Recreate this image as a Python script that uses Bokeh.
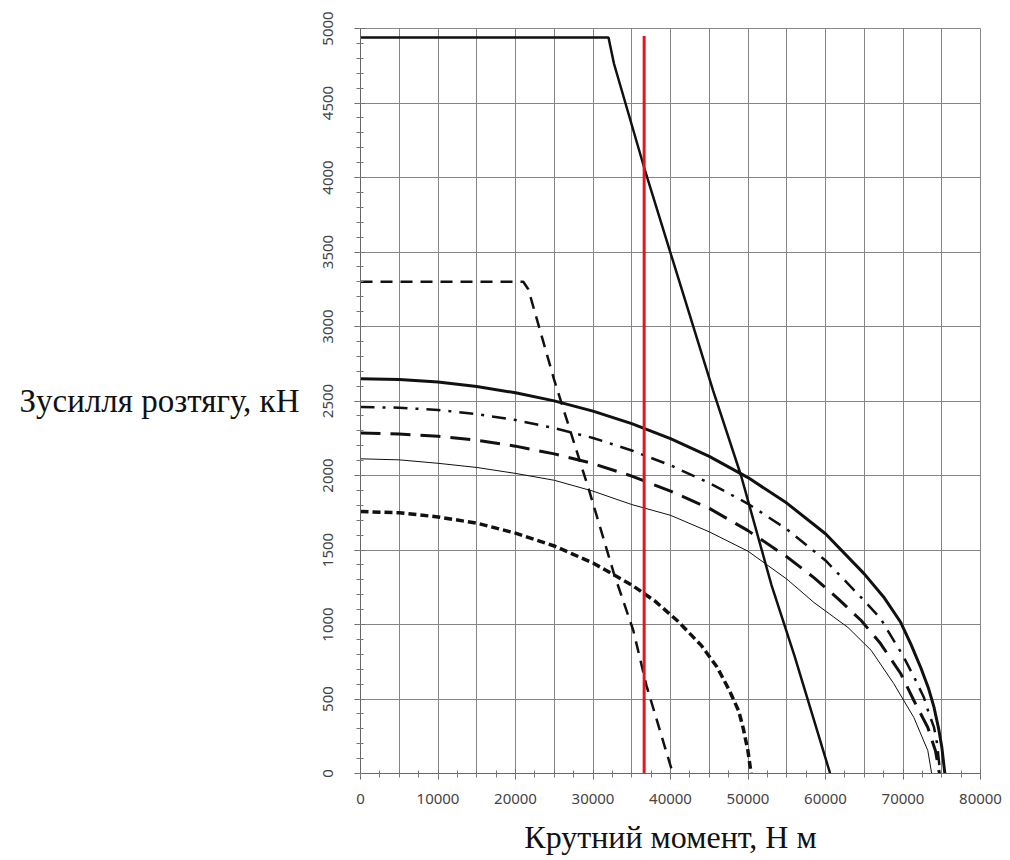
from bokeh.plotting import figure
from bokeh.models import FixedTicker, Range1d
from bokeh.embed import file_html
from bokeh.resources import INLINE

# ---- data ----
x_ticks = [0, 10000, 20000, 30000, 40000, 50000, 60000, 70000, 80000]
x_minor = list(range(0, 80001, 2500))
x_grid = list(range(0, 80001, 5000))
y_ticks = [0, 500, 1000, 1500, 2000, 2500, 3000, 3500, 4000, 4500, 5000]
y_minor = list(range(0, 5001, 100))

# thick solid ellipse-like curve
xA = [0, 5000, 10000, 15000, 20000, 25000, 30000, 35000, 40000, 45000, 50000, 55000, 60000, 65000,
      67500, 69700, 71000, 72300, 73300, 74000, 74600, 75000, 75400]
yA = [2650, 2644, 2627, 2597, 2555, 2501, 2432, 2348, 2247, 2128, 1986, 1815, 1609, 1340,
      1185, 1015, 870, 710, 570, 445, 300, 180, 0]
# dash-dot curve
xB = [0, 5000, 10000, 15000, 20000, 25000, 30000, 35000, 40000, 45000, 50000, 55000, 60000, 65000,
      67100, 70000, 71500, 72700, 73300, 74000, 74400, 74800]
yB = [2460, 2455, 2440, 2412, 2372, 2318, 2252, 2168, 2068, 1950, 1810, 1640, 1430, 1160,
      1040, 790, 640, 510, 410, 310, 200, 0]
# long-dash curve
xC = [0, 5000, 10000, 15000, 20000, 25000, 30000, 35000, 40000, 45000, 50000, 55000, 58500, 61600,
      64600, 67100, 69700, 71400, 73200, 74200, 74700]
yC = [2285, 2278, 2264, 2237, 2197, 2145, 2080, 1996, 1895, 1780, 1630, 1455, 1315, 1174,
      1027, 872, 671, 490, 309, 150, 0]
# thin solid curve
xD = [0, 5000, 10000, 15000, 20000, 25000, 30000, 35000, 40000, 45000, 50000, 55000, 58500, 62900,
      65900, 68800, 71400, 73200, 73700]
yD = [2112, 2105, 2082, 2054, 2014, 1968, 1895, 1805, 1733, 1622, 1492, 1305, 1148, 980,
      826, 604, 376, 154, 0]
# short-dash thick curve
xE = [0, 5000, 10000, 15000, 20000, 25000, 30000, 35000, 38000, 41000, 44000, 46000, 47600, 48800,
      49400, 50000, 50400]
yE = [1758, 1750, 1722, 1680, 1613, 1527, 1413, 1265, 1157, 1020, 858, 715, 557, 420,
      300, 150, 0]
# steep solid line
xF = [0, 32000, 32700, 36600, 40300, 45500, 49100, 53000, 56000, 60600]
yF = [4940, 4940, 4765, 4067, 3443, 2570, 2000, 1270, 790, 0]
# dashed steep line
xG = [0, 21000, 21650, 25000, 29500, 32700, 35200, 36900, 40300]
yG = [3300, 3300, 3250, 2640, 1900, 1342, 960, 590, 0]
# red vertical line
xR = [36600, 36600]
yR = [0, 4950]

p = figure(width=1005, height=858, output_backend="svg", toolbar_location=None,
           x_range=Range1d(0, 80000), y_range=Range1d(0, 5000),
           min_border_left=360, min_border_right=25, min_border_top=28, min_border_bottom=85)
p.background_fill_color = "white"
p.border_fill_color = "white"
p.outline_line_color = "#888888"

ink = "#111111"
p.line(xA, yA, line_color=ink, line_width=3)
p.line(xB, yB, line_color=ink, line_width=2.5, line_dash="14 8 3 8")
p.line(xC, yC, line_color=ink, line_width=3, line_dash="20 10")
p.line(xD, yD, line_color=ink, line_width=1)
p.line(xE, yE, line_color=ink, line_width=3.5, line_dash="8 4")
p.line(xF, yF, line_color=ink, line_width=2.5)
p.line(xG, yG, line_color=ink, line_width=2.5, line_dash="12 8")
p.line(xR, yR, line_color="#e8141b", line_width=3)

p.xaxis.ticker = FixedTicker(ticks=x_ticks, minor_ticks=x_minor)
p.yaxis.ticker = FixedTicker(ticks=y_ticks, minor_ticks=y_minor)
p.xgrid.ticker = FixedTicker(ticks=x_grid)
p.ygrid.ticker = FixedTicker(ticks=y_ticks)
for g in (p.xgrid, p.ygrid):
    g.grid_line_color = "#858585"
    g.grid_line_width = 1

for ax in (p.xaxis, p.yaxis):
    ax.axis_line_color = "#666666"
    ax.major_tick_line_color = "#666666"
    ax.minor_tick_line_color = "#777777"
    ax.major_tick_in = 4
    ax.major_tick_out = 6
    ax.minor_tick_in = 3
    ax.minor_tick_out = 4
    ax.major_label_text_font = "Noto Sans"
    ax.major_label_text_font_size = "15px"
    ax.major_label_text_color = "#444444"
    ax.axis_label_text_font = "Liberation Serif"
    ax.axis_label_text_font_style = "normal"
    ax.axis_label_text_color = "#111111"

p.xaxis.axis_label = "Крутний момент, Н м"
p.xaxis.axis_label_text_font_size = "32px"
p.xaxis.major_label_standoff = 14
p.xaxis.axis_label_standoff = 12
p.yaxis.axis_label = "Зусилля розтягу, кН"
p.yaxis.axis_label_text_font_size = "33px"
p.yaxis.axis_label_orientation = "horizontal"
p.yaxis.major_label_orientation = "vertical"
p.yaxis.major_label_standoff = 22
p.yaxis.axis_label_standoff = 20

open("out.html", "w").write(file_html(p, INLINE))
